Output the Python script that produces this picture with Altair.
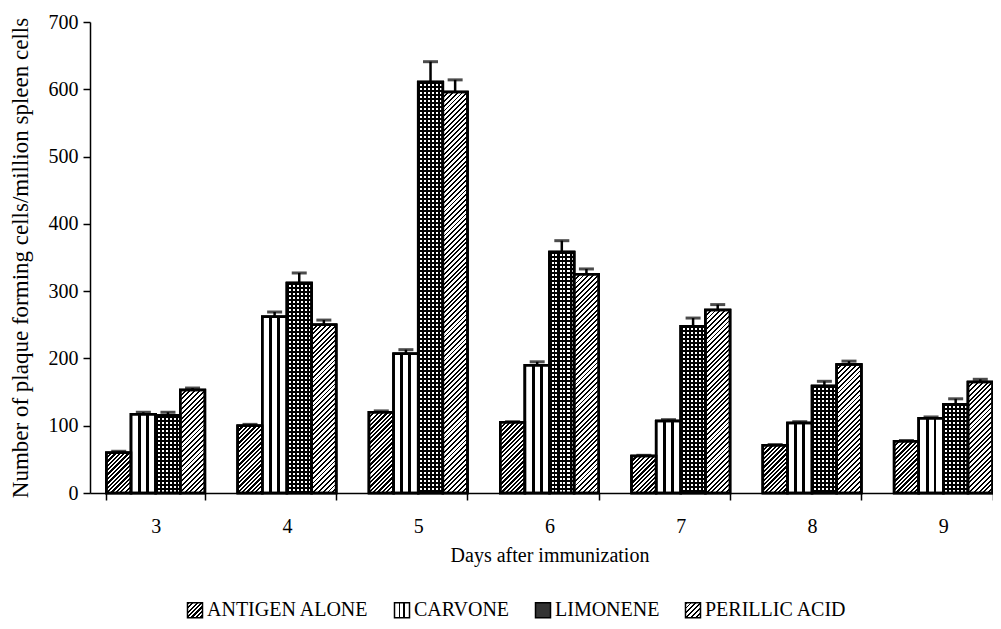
import math
import json
import altair as alt

# ---------------- data ----------------
days = ["3", "4", "5", "6", "7", "8", "9"]
series = ["ANTIGEN ALONE", "CARVONE", "LIMONENE", "PERILLIC ACID"]

antigen = [60, 100, 120, 105, 55, 71, 77]
carvone = [117, 262, 207, 190, 107, 104, 111]
limonene = [115, 312, 611, 358, 248, 159, 132]
perillic = [153, 250, 596, 325, 272, 191, 165]

err_antigen = [2, 2, 2, 1, 1, 1, 1]
err_carvone = [3, 7, 6, 5, 2, 2, 2]
err_limonene = [5, 15, 30, 17, 12, 7, 8]
err_perillic = [3, 7, 18, 8, 8, 5, 4]

y_ticks = [0, 100, 200, 300, 400, 500, 600, 700]

# ---------------- layout / style ----------------
PLOT_W = 919
PLOT_H = 471
Y_MAX = 700
STEP = PLOT_W / len(days)
BAR_W = STEP * 0.75 / len(series)
PPU = PLOT_H / Y_MAX
FONT = "Liberation Serif"
CLEAR = "rgba(0,0,0,0)"


def stripes(n, dark_frac, dark, light, x1, y1, x2, y2):
    """Linear gradient made of n hard-edged stripes."""
    stops = []
    period = 1.0 / n
    pos = 0.0
    while pos < 1.0 - 1e-9:
        a = round(pos, 5)
        b = round(min(pos + dark_frac * period, 1.0), 5)
        c = round(min(pos + period, 1.0), 5)
        stops += [
            {"offset": a, "color": dark},
            {"offset": b, "color": dark},
            {"offset": b, "color": light},
            {"offset": c, "color": light},
        ]
        pos += period
    return {"gradient": "linear", "x1": x1, "y1": y1, "x2": x2, "y2": y2, "stops": stops}


def diag(w, h, period, dark_frac):
    """'/' hatching at 45 degrees on a w x h box (objectBoundingBox units)."""
    L = w + h
    k = L / (w * w + h * h)
    n = L / (period * math.sqrt(2))
    return stripes(n, dark_frac, "black", "white", 0, 0, round(k * w, 6), round(k * h, 6))


def carvone_fill():
    return {
        "gradient": "linear", "x1": 0, "y1": 0, "x2": 1, "y2": 0,
        "stops": [
            {"offset": 0, "color": "white"}, {"offset": 0.28, "color": "white"},
            {"offset": 0.28, "color": "black"}, {"offset": 0.4, "color": "black"},
            {"offset": 0.4, "color": "white"}, {"offset": 0.6, "color": "white"},
            {"offset": 0.6, "color": "black"}, {"offset": 0.72, "color": "black"},
            {"offset": 0.72, "color": "white"}, {"offset": 1, "color": "white"},
        ],
    }


HATCH = {"ANTIGEN ALONE": (3.1, 0.52), "PERILLIC ACID": (3.4, 0.4)}


def base_fill(s, v):
    h = max(v * PPU, 1.0)
    if s in HATCH:
        p, d = HATCH[s]
        return diag(BAR_W, h, p, d)
    if s == "CARVONE":
        return carvone_fill()
    return stripes(BAR_W / 4.0, 0.5, "black", "white", 0, 0, 1, 0)


def over_fill(s, v):
    h = max(v * PPU, 1.0)
    if s == "LIMONENE":
        return stripes(h / 4.0, 0.5, "black", CLEAR, 0, 0, 0, 1)
    return CLEAR


values = {"ANTIGEN ALONE": antigen, "CARVONE": carvone, "LIMONENE": limonene, "PERILLIC ACID": perillic}
errors = {"ANTIGEN ALONE": err_antigen, "CARVONE": err_carvone, "LIMONENE": err_limonene, "PERILLIC ACID": err_perillic}

records = []
for s in series:
    for i, d in enumerate(days):
        v = values[s][i]
        records.append({
            "day": d, "series": s, "value": v, "upper": v + errors[s][i],
            "f1": base_fill(s, v), "f2": over_fill(s, v),
        })

data = alt.Data(values=records)

# legend swatch fills (15px squares)
legend_fills = [
    {"expr": json.dumps(diag(15, 15, 3.1, 0.52))},
    {"expr": json.dumps(carvone_fill())},
    "#333333",
    {"expr": json.dumps(diag(15, 15, 3.4, 0.4))},
]

x_enc = alt.X(
    "day:N", sort=days,
    scale=alt.Scale(paddingInner=0.25, paddingOuter=0.125),
    axis=alt.Axis(
        title="Days after immunization", labelAngle=0, tickBand="extent",
        tickSize=7, labelPadding=16, titlePadding=9,
    ),
)
xo_enc = alt.XOffset("series:N", sort=series, scale=alt.Scale(paddingInner=0, paddingOuter=0))
y_enc = alt.Y(
    "value:Q",
    scale=alt.Scale(domain=[0, Y_MAX], nice=False),
    axis=alt.Axis(
        title="Number of plaque forming cells/million spleen cells",
        values=y_ticks, tickSize=7, labelPadding=5, titlePadding=16,
        titleFontSize=23,
    ),
)

base = alt.Chart(data)

bars_legend = base.mark_bar(stroke="black", strokeWidth=2.5).encode(
    x=x_enc, xOffset=xo_enc, y=y_enc,
    fill=alt.Fill(
        "series:N", sort=series,
        scale=alt.Scale(domain=series, range=legend_fills),
        legend=alt.Legend(
            title=None, orient="none", direction="horizontal",
            legendX=95, legendY=578, symbolType="square", symbolSize=225,
            symbolStrokeColor="black", symbolStrokeWidth=1.5,
            labelFont=FONT, labelFontSize=20, labelColor="black",
            labelOffset=2, columnPadding=22, labelLimit=400,
        ),
    ),
)

bars_base = base.mark_bar(stroke="black", strokeWidth=2.5).encode(
    x=x_enc, xOffset=xo_enc, y=y_enc,
    fill=alt.Fill("f1:N", scale=None, legend=None),
)

bars_over = base.mark_bar(stroke="black", strokeWidth=2.5).encode(
    x=x_enc, xOffset=xo_enc, y=y_enc,
    fill=alt.Fill("f2:N", scale=None, legend=None),
)

err_rule = base.mark_rule(color="black", strokeWidth=2.5).encode(
    x=x_enc, xOffset=xo_enc, y=alt.Y("value:Q"), y2=alt.Y2("upper:Q"),
)

err_cap = base.mark_tick(color="black", thickness=3, size=15).encode(
    x=x_enc, xOffset=xo_enc, y=alt.Y("upper:Q"),
)

chart = (
    alt.layer(bars_legend, bars_base, bars_over, err_rule, err_cap)
    .properties(
        width=PLOT_W, height=PLOT_H,
        autosize=alt.AutoSizeParams(type="none"),
        padding={"left": 82, "top": 14, "right": -16, "bottom": 136},
        background="white",
    )
    .configure_view(stroke=None)
    .configure_axis(
        labelFont=FONT, titleFont=FONT, labelFontSize=20, titleFontSize=20,
        labelColor="black", titleColor="black", titleFontWeight="normal",
        domainColor="black", tickColor="black", domainWidth=1.5, tickWidth=1.5,
        grid=False,
    )
)

chart.save("out.html", embed_options={"renderer": "svg", "actions": False})
